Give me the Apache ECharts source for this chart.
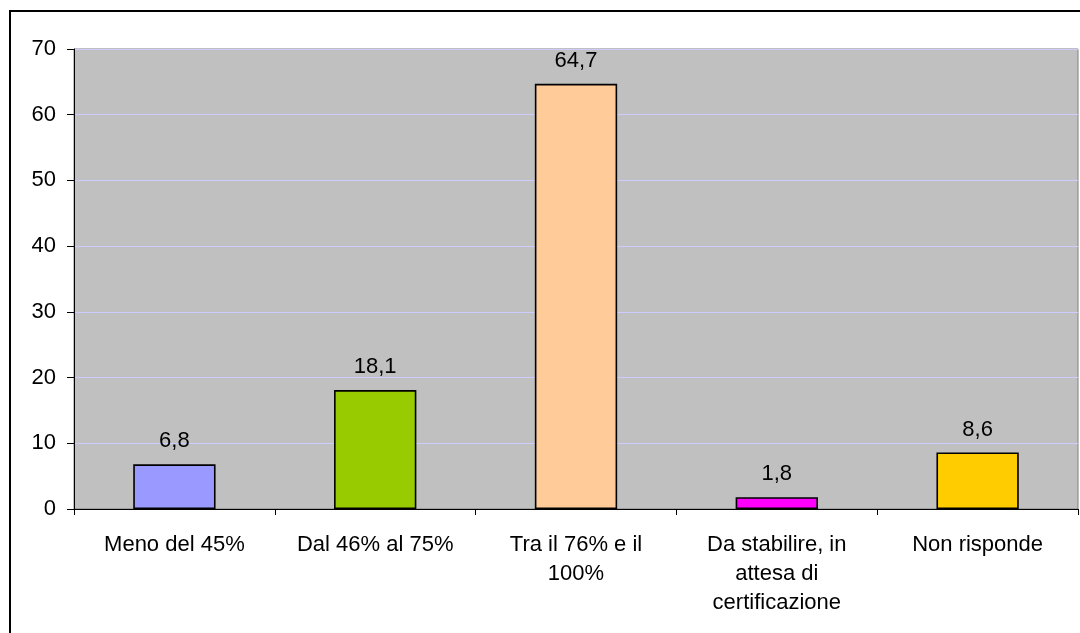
<!DOCTYPE html>
<html>
<head>
<meta charset="utf-8">
<script src="https://cdn.jsdelivr.net/npm/echarts@6/dist/echarts.min.js"></script>
<style>
  html, body { margin: 0; padding: 0; background: #ffffff; }
  #chart { width: 1080px; height: 633px; }
</style>
</head>
<body>
<div id="chart"></div>
<script>
// Categories and percentage values
const categories = [
  'Meno del 45%',
  'Dal 46% al 75%',
  'Tra il 76% e il\n100%',
  'Da stabilire, in\nattesa di\ncertificazione',
  'Non risponde'
];
const values = [6.8, 18.1, 64.7, 1.8, 8.6];
const barColors = ['#9999FF', '#99CC00', '#FFCC99', '#FF00FF', '#FFCC00'];
const yTicks = [0, 10, 20, 30, 40, 50, 60, 70];

const fontFamily = '"Liberation Sans", Arial, sans-serif';

const chart = echarts.init(document.getElementById('chart'), null, { renderer: 'canvas' });

chart.setOption({
  animation: false,
  backgroundColor: '#ffffff',
  graphic: [{
    type: 'rect',
    shape: { x: 10, y: 11, width: 1100, height: 660 },
    style: { fill: 'none', stroke: '#000000', lineWidth: 2 },
    silent: true,
    z: 100
  }],
  grid: {
    left: 74, top: 49, right: 2, bottom: 124,
    show: true,
    backgroundColor: '#C0C0C0',
    borderColor: '#808080',
    borderWidth: 1
  },
  xAxis: {
    type: 'category',
    data: categories,
    boundaryGap: true,
    axisLine: { lineStyle: { color: '#000000', width: 1 } },
    axisTick: { show: true, inside: false, length: 6, lineStyle: { color: '#000000' } },
    axisLabel: {
      interval: 0,
      margin: 21,
      color: '#000000',
      fontFamily: fontFamily,
      fontSize: 22,
      lineHeight: 29
    },
    splitLine: { show: false }
  },
  yAxis: {
    type: 'value',
    min: yTicks[0],
    max: yTicks[yTicks.length - 1],
    interval: 10,
    axisLine: { show: true, lineStyle: { color: '#000000', width: 1 } },
    axisTick: { show: true, length: 7, lineStyle: { color: '#000000' } },
    axisLabel: {
      margin: 18,
      color: '#000000',
      fontFamily: fontFamily,
      fontSize: 22
    },
    splitLine: { show: true, lineStyle: { color: '#CCCCFF', width: 1 } }
  },
  series: [{
    type: 'bar',
    data: values.map((v, i) => ({ value: v, itemStyle: { color: barColors[i] } })),
    barWidth: '41%',
    itemStyle: { borderColor: '#000000', borderWidth: 1.6 },
    label: {
      show: true,
      position: 'top',
      distance: 12,
      color: '#000000',
      fontFamily: fontFamily,
      fontSize: 22,
      formatter: p => String(p.value).replace('.', ',')
    }
  }]
});
</script>
</body>
</html>
